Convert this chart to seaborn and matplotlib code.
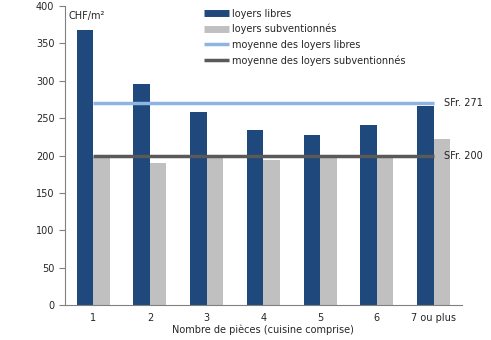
import matplotlib
matplotlib.use("Agg")
import matplotlib.pyplot as plt
import pandas as pd
import seaborn as sns
from matplotlib.lines import Line2D

categories = ["1", "2", "3", "4", "5", "6", "7 ou plus"]
loyers_libres = [368, 296, 258, 234, 227, 241, 266]
loyers_subventionnes = [198, 190, 198, 194, 198, 198, 222]
moyenne_libres = 271
moyenne_subv = 200

BLUE = "#1f487c"
GREY = "#c0c0c0"
LIGHT_BLUE = "#8eb4e3"
DARK_GREY = "#595959"

df = pd.DataFrame({
    "cat": categories * 2,
    "val": loyers_libres + loyers_subventionnes,
    "serie": ["loyers libres"] * 7 + ["loyers subventionnés"] * 7,
})

sns.set_style("white")
plt.rcParams["font.family"] = ["DejaVu Sans"]
plt.rcParams["font.size"] = 7

fig, ax = plt.subplots(figsize=(4.91, 3.40), dpi=100)
fig.subplots_adjust(left=0.132, right=0.941, top=0.982, bottom=0.103)

sns.barplot(data=df, x="cat", y="val", hue="serie", ax=ax,
            palette=[BLUE, GREY], width=0.58, saturation=1, legend=False,
            linewidth=0, edgecolor="none")

ax.hlines(moyenne_libres, 0, len(categories) - 1, color=LIGHT_BLUE, lw=2.5, zorder=3)
ax.hlines(moyenne_subv, 0, len(categories) - 1, color=DARK_GREY, lw=2.5, zorder=3)
ax.text(len(categories) - 1 + 0.18, moyenne_libres, f"SFr. {moyenne_libres}",
        va="center", ha="left", fontsize=7, color="#222222")
ax.text(len(categories) - 1 + 0.18, moyenne_subv, f"SFr. {moyenne_subv}",
        va="center", ha="left", fontsize=7, color="#222222")

ax.set_ylim(0, 400)
ax.set_xlim(-0.5, len(categories) - 0.5)
ax.set_yticks(range(0, 401, 50))
ax.set_xticks(range(len(categories)))
ax.set_xticklabels(categories)
ax.set_xticks([i - 0.5 for i in range(len(categories) + 1)], minor=True)
ax.tick_params(axis="x", which="major", length=0, pad=6, labelsize=7)
ax.tick_params(axis="x", which="minor", length=4, color="#808080", direction="out")
ax.tick_params(axis="y", length=4, color="#808080", direction="out", labelsize=7, left=True)
ax.set_xlabel("Nombre de pièces (cuisine comprise)", fontsize=7, labelpad=1)
ax.set_ylabel("")
for side in ["top", "right"]:
    ax.spines[side].set_visible(False)
for side in ["left", "bottom"]:
    ax.spines[side].set_color("#808080")
    ax.spines[side].set_linewidth(0.8)

ax.text(0.01, 0.985, "CHF/m²", transform=ax.transAxes, va="top", ha="left", fontsize=7)

handles = [
    Line2D([], [], color=BLUE, lw=5, solid_capstyle="butt"),
    Line2D([], [], color=GREY, lw=5, solid_capstyle="butt"),
    Line2D([], [], color=LIGHT_BLUE, lw=2.5, solid_capstyle="butt"),
    Line2D([], [], color=DARK_GREY, lw=2.5, solid_capstyle="butt"),
]
labels = ["loyers libres", "loyers subventionnés",
          "moyenne des loyers libres", "moyenne des loyers subventionnés"]
ax.legend(handles, labels, loc="upper left", bbox_to_anchor=(0.34, 1.005),
          frameon=False, fontsize=7, handlelength=2.6, handletextpad=0.3,
          labelspacing=0.55, borderaxespad=0)

fig.savefig("out.png", dpi=100)
